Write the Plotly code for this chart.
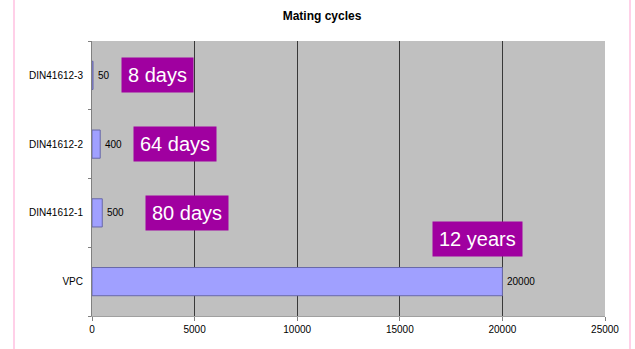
import plotly.graph_objects as go

categories = ["VPC", "DIN41612-1", "DIN41612-2", "DIN41612-3"]
cycles = [20000, 500, 400, 50]
durations = ["12 years", "80 days", "64 days", "8 days"]
# x position (data units) of the centre of each duration label box
label_x = [18790, 4650, 4045, 3170]
label_dy = [0.625, 0, 0, 0]
x_ticks = [0, 5000, 10000, 15000, 20000, 25000]

W, H = 635, 349
L, R, T, B = 92, 30, 41, 33
FONT = "Liberation Sans Narrow, Arial Narrow, Liberation Sans"

fig = go.Figure()
fig.add_trace(go.Bar(
    y=categories, x=cycles, orientation="h",
    marker=dict(color="#a0a0ff", line=dict(color="#6868a8", width=1)),
    width=0.41, hoverinfo="skip",
))

for i, (c, v) in enumerate(zip(categories, cycles)):
    fig.add_annotation(
        x=v, y=i, xref="x", yref="y", text=str(v), showarrow=False,
        xanchor="left", xshift=3,
        font=dict(family=FONT, size=10, color="#000000"),
    )

for i, (d, lx, dy) in enumerate(zip(durations, label_x, label_dy)):
    fig.add_annotation(
        x=lx, y=i + dy, xref="x", yref="y", text=d, showarrow=False,
        xanchor="center", yanchor="middle",
        font=dict(family="Liberation Sans, Arial", size=20, color="#ffffff"),
        bgcolor="#a000a0", borderpad=6,
    )

# pink page-edge lines
pw, ph = W - L - R, H - T - B
for px in (14, 630):
    xp = (px - L) / pw
    fig.add_shape(type="line", xref="paper", yref="paper",
                  x0=xp, x1=xp, y0=-B / ph, y1=1 + T / ph,
                  line=dict(color="#ffd0e8", width=2))

fig.update_layout(
    width=W, height=H,
    margin=dict(l=L, r=R, t=T, b=B),
    paper_bgcolor="#ffffff", plot_bgcolor="#c0c0c0",
    showlegend=False,
    bargap=0.59,
    title=dict(text="<b>Mating cycles</b>", x=322 / W, xanchor="center",
               y=1 - 16 / H, yanchor="middle",
               font=dict(family=FONT, size=12, color="#000")),
    xaxis=dict(range=[0, 25000], tickvals=x_ticks, ticktext=[str(v) for v in x_ticks],
               showgrid=True, gridcolor="#383838", gridwidth=1, zeroline=False,
               ticks="outside", ticklen=4, tickcolor="#808080",
               showline=True, linecolor="#a0a0a0",
               tickfont=dict(family=FONT, size=10, color="#000")),
    yaxis=dict(range=[-0.5, 3.5], showgrid=False, zeroline=False,
               showline=True, linecolor="#808080", linewidth=1,
               ticks="outside", tickson="boundaries", ticklen=3, tickcolor="#808080",
               ticklabelstandoff=6,
               tickfont=dict(family=FONT, size=10, color="#000")),
)

fig.write_html("out.html")
